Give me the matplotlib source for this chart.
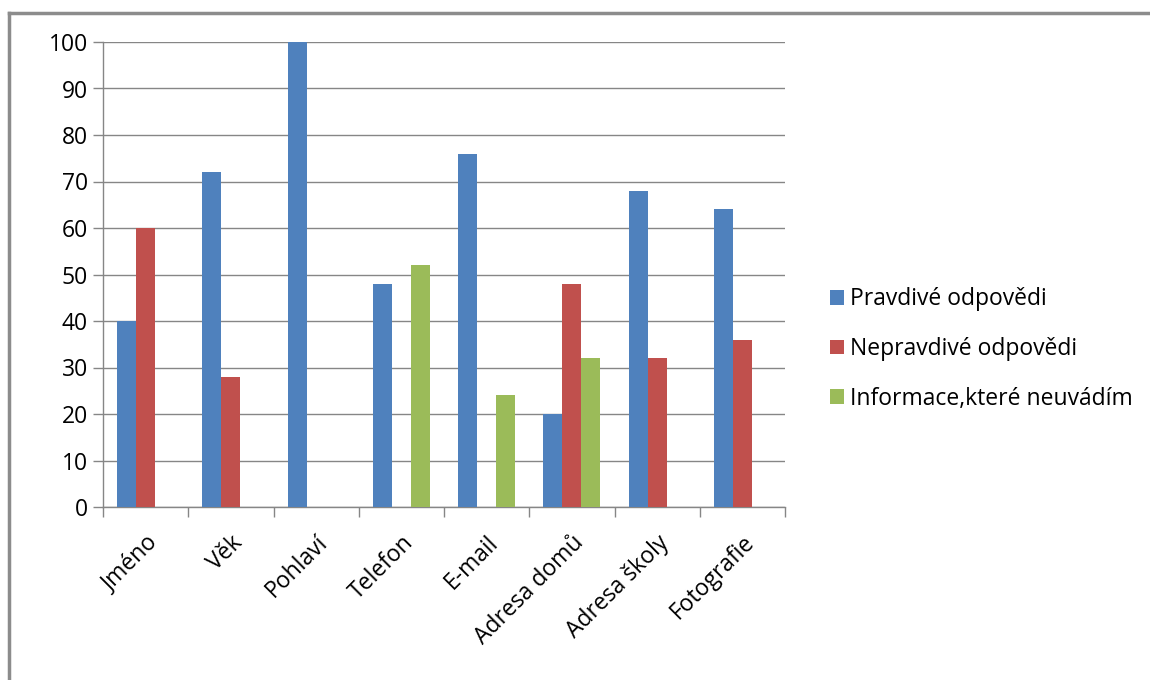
import numpy as np
import matplotlib.pyplot as plt
from matplotlib.lines import Line2D

categories = ["Jméno", "Věk", "Pohlaví", "Telefon", "E-mail",
              "Adresa domů", "Adresa školy", "Fotografie"]
pravdive = [40, 72, 100, 48, 76, 20, 68, 64]
nepravdive = [60, 28, 0, 0, 0, 48, 32, 36]
neuvadim = [0, 0, 0, 52, 24, 32, 0, 0]
series_names = ["Pravdivé odpovědi", "Nepravdivé odpovědi", "Informace,které neuvádím"]
colors = ["#4F81BD", "#C0504D", "#9BBB59"]

plt.rcParams["font.family"] = ["Open Sans", "DejaVu Sans"]

fig = plt.figure(figsize=(11.5, 6.8), dpi=100)
ax = fig.add_axes([103 / 1150, 1 - 507 / 680, 682 / 1150, 465 / 680])

x = np.arange(len(categories))
w = 1 / 4.5
for i, (vals, name, col) in enumerate(zip([pravdive, nepravdive, neuvadim], series_names, colors)):
    ax.bar(x + (i - 1) * w, vals, width=w, color=col, label=name, zorder=3)

ax.set_xlim(-0.5, len(categories) - 0.5)
ax.set_ylim(0, 100)
ax.set_yticks(range(0, 101, 10))
ax.grid(axis="y", color="#868686", linewidth=1, zorder=0)
ax.set_xticks(x)
ax.set_xticklabels(categories, rotation=45, ha="right", rotation_mode="anchor")
ax.set_xticks(np.arange(-0.5, len(categories)), minor=True)
ax.tick_params(axis="x", which="major", length=0, pad=17, labelsize=16.5)
ax.tick_params(axis="x", which="minor", length=7, width=1, color="#868686")
ax.tick_params(axis="y", length=7, width=1, color="#868686", labelsize=16.5, pad=4)

for s in ["top", "right"]:
    ax.spines[s].set_visible(False)
for s in ["left", "bottom"]:
    ax.spines[s].set_color("#868686")
    ax.spines[s].set_linewidth(1)

handles, labels = ax.get_legend_handles_labels()
fig.legend(handles, labels, loc="center left", bbox_to_anchor=(821 / 1150, 1 - 349 / 680),
           frameon=False, fontsize=16.5, handlelength=0.62, handleheight=0.62,
           handletextpad=0.25, labelspacing=1.12, borderaxespad=0)

# outer chart border (only top and left visible in the crop)
fig.add_artist(Line2D([9 / 1150, 9 / 1150], [0, 1 - 13 / 680], transform=fig.transFigure,
                      color="#8C8C8C", linewidth=2.5))
fig.add_artist(Line2D([9 / 1150, 1], [1 - 13 / 680, 1 - 13 / 680], transform=fig.transFigure,
                      color="#8C8C8C", linewidth=2.5))

fig.savefig("out.png", dpi=100)
